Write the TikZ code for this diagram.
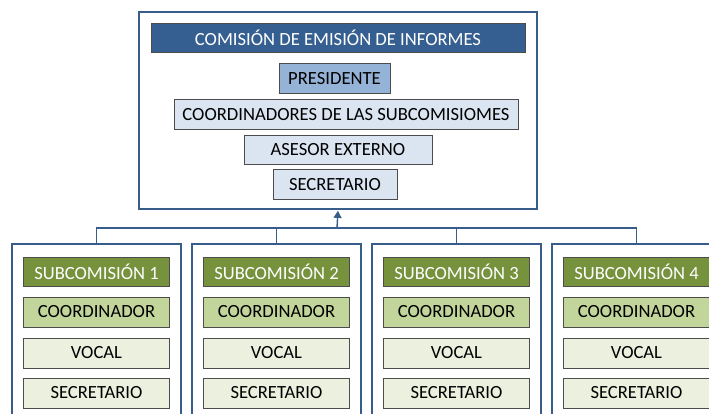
\documentclass[tikz,border=0pt]{standalone}
\usepackage{fontspec}
\setmainfont{Carlito}
\usetikzlibrary{arrows.meta}
\definecolor{frameblue}{RGB}{56,93,138}
\definecolor{titleblue}{RGB}{54,95,145}
\definecolor{midblue}{RGB}{149,179,215}
\definecolor{paleblue}{RGB}{219,229,241}
\definecolor{darkolive}{RGB}{118,146,60}
\definecolor{midolive}{RGB}{194,214,155}
\definecolor{paleolive}{RGB}{235,241,222}
\tikzset{
  FrameStyle/.style = { rectangle, draw = frameblue, line width = 1.8pt,
                        inner sep = 0pt },
  BoxStyle/.style = { rectangle, draw = gray!60!black, line width = 0.5pt,
                      inner sep = 0pt, minimum height = 29.5pt,
                      font = \fontsize{18.6}{21}\selectfont },
  LinkStyle/.style = { draw = frameblue, line width = 1.4pt } }

\begin{document}
\begin{tikzpicture}[x=1pt,y=-1pt]
  \useasboundingbox (0,0) rectangle (709,414);
  \clip (0,0) rectangle (709,414);
  \node[FrameStyle, minimum width = 398pt, minimum height = 197pt] (top) at (338,110.5) {};
  \node[BoxStyle, fill = titleblue, text = white, minimum width = 374pt] (tit) at (338,38) {COMISIÓN DE EMISIÓN DE INFORMES};
  \node[BoxStyle, fill = midblue, minimum width = 111pt] (pre) at (334.5,78.5) {PRESIDENTE};
  \node[BoxStyle, fill = paleblue, minimum width = 344pt] (coo) at (346,114.5) {COORDINADORES DE LAS SUBCOMISIOMES};
  \node[BoxStyle, fill = paleblue, minimum width = 188pt] (ase) at (338,150) {ASESOR EXTERNO};
  \node[BoxStyle, fill = paleblue, minimum width = 124pt] (sec) at (335,184.5) {SECRETARIO};

  \foreach \i in {1,...,4} {
    \pgfmathsetmacro\cx{96.5+180*(\i-1)}
    \node[FrameStyle, minimum width = 169pt, minimum height = 186pt] (f\i) at (\cx,337) {};
    \node[BoxStyle, fill = darkolive, text = white, minimum width = 146pt] (s\i) at (\cx,271.5) {SUBCOMISIÓN \i};
    \node[BoxStyle, fill = midolive, minimum width = 146pt] (c\i) at (\cx,312) {COORDINADOR};
    \node[BoxStyle, fill = paleolive, minimum width = 146pt] (v\i) at (\cx,353) {VOCAL};
    \node[BoxStyle, fill = paleolive, minimum width = 146pt] (e\i) at (\cx,393) {SECRETARIO};
  }

  \coordinate (bus) at (337,228);
  \draw[LinkStyle] (f1.north) |- (bus) -| (f4.north);
  \draw[LinkStyle] (f2.north) |- (bus);
  \draw[LinkStyle] (f3.north) |- (bus);
  \draw[LinkStyle, shorten > = 1pt, -{Triangle[length=7pt,width=8pt]}] (bus) -- (top.south);
\end{tikzpicture}
\end{document}
